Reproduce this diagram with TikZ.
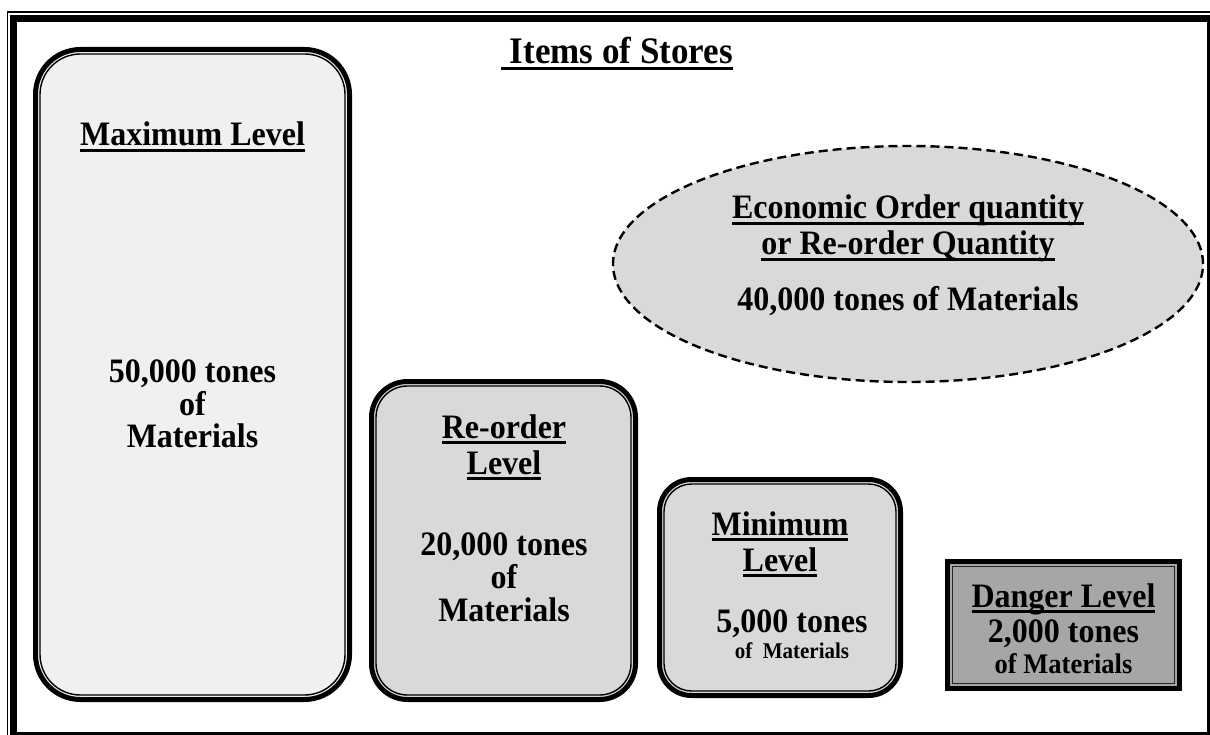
\documentclass[tikz,border=0pt]{standalone}
\usepackage{fontspec}
\setmainfont{Liberation Serif}
\usetikzlibrary{shapes.geometric,calc}

% underline at a fixed depth below the baseline
\newcommand\ulin[1]{\setbox0\hbox{#1}\rlap{\rule[-5.6pt]{\wd0}{2.7pt}}\box0}
% slightly tall lettering
\newcommand\tall[1]{\scalebox{1}[1.07]{#1}}

\definecolor{paleFill}{HTML}{F0F0F0}
\definecolor{midFill}{HTML}{D9D9D9}
\definecolor{darkFill}{HTML}{A6A6A6}

\tikzset{
  txt/.style={anchor=base, inner sep=0pt, font=\fontsize{32}{37}\selectfont\bfseries},
  txtsmall/.style={anchor=base, inner sep=0pt, font=\fontsize{21}{24}\selectfont\bfseries},
  txtmid/.style={anchor=base, inner sep=0pt, font=\fontsize{26.5}{30}\selectfont\bfseries},
  titletxt/.style={anchor=base, inner sep=0pt, font=\fontsize{35}{40}\selectfont\bfseries},
  levelbox/.style={draw, line width=5pt, outer sep=0pt, inner sep=0pt, rectangle},
  innerline/.style={line width=1.4pt},
  eoq/.style={ellipse, draw, dash pattern=on 9pt off 5pt, line width=2.4pt,
              fill=midFill, outer sep=0pt, inner sep=0pt},
}

\begin{document}
\begin{tikzpicture}[x=1pt,y=-1pt]
\useasboundingbox (0,0) rectangle (1210,735);
\fill[white] (0,0) rectangle (1210,735);

% page frame: thin outer rule, thick inner rule
\draw[line width=1.4pt] (7.5,12) rectangle (1220,745);
\draw[line width=7pt] (13.5,19) rectangle (1210.5,735.5);

% title
\node[titletxt] (title) at (617,64) {\tall{\ulin{\ Items of Stores}}};

% maximum level
\node[levelbox, fill=paleFill, rounded corners=45pt,
      minimum width=314pt, minimum height=650pt] (maxbox) at (192.5,374.5) {};
\draw[innerline, rounded corners=40.5pt]
  ($(maxbox.north west)+(4.5,4.5)$) rectangle ($(maxbox.south east)+(-4.5,-4.5)$);
\node[txt] (maxhead) at (192.5,146) {\tall{\ulin{Maximum Level}}};
\node[txt] (maxq1) at (192.5,382) {\tall{50,000 tones}};
\node[txt] (maxq2) at (192.5,415) {\tall{of}};
\node[txt] (maxq3) at (192.5,447) {\tall{Materials}};

% re-order level
\node[levelbox, fill=midFill, rounded corners=36pt,
      minimum width=264pt, minimum height=318pt] (rolbox) at (503.5,540.5) {};
\draw[innerline, rounded corners=31.5pt]
  ($(rolbox.north west)+(4.5,4.5)$) rectangle ($(rolbox.south east)+(-4.5,-4.5)$);
\node[txt] (rolhead1) at (504,438) {\tall{\ulin{Re-order}}};
\node[txt] (rolhead2) at (504,474) {\tall{\ulin{Level}}};
\node[txt] (rolq1) at (504,555) {\tall{20,000 tones}};
\node[txt] (rolq2) at (504,588) {\tall{of}};
\node[txt] (rolq3) at (504,621) {\tall{Materials}};

% minimum level
\node[levelbox, fill=midFill, rounded corners=32pt,
      minimum width=241pt, minimum height=216pt] (minbox) at (780,587.5) {};
\draw[innerline, rounded corners=27.5pt]
  ($(minbox.north west)+(4.5,4.5)$) rectangle ($(minbox.south east)+(-4.5,-4.5)$);
\node[txt] (minhead1) at (780,535) {\tall{\ulin{Minimum}}};
\node[txt] (minhead2) at (780,571) {\tall{\ulin{Level}}};
\node[txt] (minq1) at (792,632) {\tall{5,000 tones}};
\node[txtsmall] (minq2) at (792,658) {\tall{of\ \ Materials}};

% danger level
\node[levelbox, fill=darkFill, minimum width=232pt, minimum height=127pt] (dangbox) at (1063.5,625) {};
\draw[innerline, black!85]
  ($(dangbox.north west)+(5,5)$) rectangle ($(dangbox.south east)+(-5,-5)$);
\node[txt] (danghead) at (1063.5,607) {\tall{\ulin{Danger Level}}};
\node[txt] (dangq1) at (1063.5,642) {\tall{2,000 tones}};
\node[txtmid] (dangq2) at (1063.5,673) {\tall{of Materials}};

% economic order quantity
\node[eoq, minimum width=590pt, minimum height=236pt] (eoqbox) at (908,264) {};
\node[txt] (eoqhead1) at (908,219) {\tall{\ulin{Economic Order quantity}}};
\node[txt] (eoqhead2) at (908,255) {\tall{\ulin{or Re-order Quantity}}};
\node[txt] (eoqq) at (908,311) {\tall{40,000 tones of Materials}};
\end{tikzpicture}
\end{document}
